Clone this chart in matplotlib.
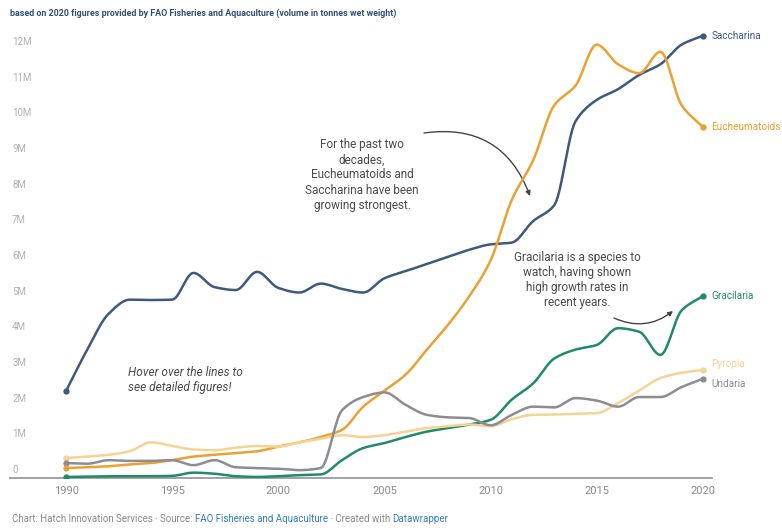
import numpy as np
import matplotlib
matplotlib.use('Agg')
import matplotlib.pyplot as plt
from matplotlib.transforms import blended_transform_factory

plt.rcParams['font.family'] = ['Roboto', 'DejaVu Sans']

years = list(range(1990, 2021))

# Production per species, million tonnes wet weight
saccharina = [2.44, 3.6, 4.6, 5.0, 4.99, 5.0, 5.75, 5.35, 5.27, 5.78, 5.33,
              5.2, 5.45, 5.3, 5.2, 5.6, 5.8, 6.0, 6.2, 6.4, 6.55,
              6.6, 7.2, 7.65, 10.0, 10.6, 10.9, 11.3, 11.6, 12.15, 12.4]
eucheumatoids = [0.28, 0.3, 0.33, 0.38, 0.42, 0.5, 0.6, 0.65, 0.7, 0.75, 0.88,
                 1.0, 1.15, 1.35, 2.0, 2.45, 2.9, 3.6, 4.3, 5.1, 6.1,
                 7.8, 8.9, 10.45, 11.0, 12.15, 11.6, 11.35, 11.95, 10.45, 9.84]
gracilaria = [0.03, 0.04, 0.05, 0.05, 0.05, 0.06, 0.15, 0.12, 0.05, 0.03, 0.05,
              0.08, 0.1, 0.5, 0.84, 0.98, 1.15, 1.3, 1.4, 1.5, 1.63,
              2.2, 2.65, 3.35, 3.6, 3.73, 4.2, 4.1, 3.45, 4.7, 5.1]
pyropia = [0.56, 0.6, 0.65, 0.75, 1.0, 0.9, 0.8, 0.78, 0.85, 0.9, 0.88,
           1.0, 1.1, 1.2, 1.15, 1.2, 1.3, 1.4, 1.45, 1.5, 1.45,
           1.65, 1.77, 1.78, 1.8, 1.82, 2.1, 2.45, 2.8, 2.95, 3.03]
undaria = [0.42, 0.4, 0.5, 0.48, 0.48, 0.5, 0.36, 0.5, 0.3, 0.28, 0.26,
           0.22, 0.28, 1.9, 2.27, 2.4, 2.05, 1.77, 1.7, 1.68, 1.48,
           1.77, 2.0, 1.98, 2.24, 2.17, 2.0, 2.27, 2.27, 2.55, 2.78]

names = ['Saccharina', 'Eucheumatoids', 'Gracilaria', 'Pyropia', 'Undaria']
colors = ['#3d5a7c', '#eba132', '#1f8a6c', '#f6d294', '#8f8b93']
series = [saccharina, eucheumatoids, gracilaria, pyropia, undaria]
label_offsets = [0, 0, 0, 1, -1]  # nudges the end labels apart (points * 4)


def smooth(x, y, n=12):
    # monotone cubic curve through the points, like the web chart draws
    x = np.asarray(x, float)
    y = np.asarray(y, float)
    h = np.diff(x)
    d = np.diff(y) / h
    m = np.zeros_like(y)
    m[0], m[-1] = d[0], d[-1]
    for i in range(1, len(y) - 1):
        if d[i - 1] * d[i] > 0:
            m[i] = 2 / (1 / d[i - 1] + 1 / d[i])
    xs, ys = [], []
    for i in range(len(x) - 1):
        t = np.linspace(0, 1, n, endpoint=False)
        h00 = 2 * t**3 - 3 * t**2 + 1
        h10 = t**3 - 2 * t**2 + t
        h01 = -2 * t**3 + 3 * t**2
        h11 = t**3 - t**2
        xs.append(x[i] + t * h[i])
        ys.append(h00 * y[i] + h10 * h[i] * m[i] + h01 * y[i + 1] + h11 * h[i] * m[i + 1])
    xs.append([x[-1]])
    ys.append([y[-1]])
    return np.concatenate(xs), np.concatenate(ys)


W, H = 782, 530
fig = plt.figure(figsize=(W / 100, H / 100), dpi=100)
fig.patch.set_facecolor('white')


def fx(px):
    return px / W


def fy(py):
    return 1 - py / H


ax = fig.add_axes([fx(10), fy(478), fx(712) - fx(10), fy(30) - fy(478)])
ax.set_xlim(1987.36, 2020.43)
ax.set_ylim(0, 12.56)

# draw order: light lines behind
for idx in [3, 4, 2, 0, 1]:
    vals = series[idx]
    sx, sy = smooth(years, vals)
    ax.plot(sx, sy, color=colors[idx], lw=1.8, solid_capstyle='round', zorder=3 + idx * 0.1)
    ax.plot([years[0], years[-1]], [vals[0], vals[-1]], 'o', color=colors[idx],
            ms=3.5, zorder=4)

for name, vals, c, off in zip(names, series, colors, label_offsets):
    ax.annotate(name, (years[-1], vals[-1]), xytext=(6, off * 4), textcoords='offset points',
                va='center', ha='left', fontsize=7.2, color=c, annotation_clip=False)

for s in ['top', 'right', 'left']:
    ax.spines[s].set_visible(False)
ax.spines['bottom'].set_color('#9a9a9a')
ax.spines['bottom'].set_linewidth(1.3)
ax.set_yticks([])
ax.set_xticks(range(1990, 2021, 5))
ax.tick_params(axis='x', length=0, pad=6, labelsize=8, labelcolor='#8a8a8a')

trans = blended_transform_factory(ax.transAxes, ax.transData)
for v in range(13):
    ax.text(0.003, v + 0.08, '0' if v == 0 else f'{v}M', transform=trans,
            fontsize=7, color='#b0b0b0', va='bottom', ha='left')

fig.text(fx(10), fy(13), 'based on 2020 figures provided by FAO Fisheries and Aquaculture '
         '(volume in tonnes wet weight)', fontsize=6.4, fontweight='bold',
         color='#2f5073', va='center', ha='left')

note_color = '#4a4a4a'
fig.text(fx(362), fy(175), 'For the past two\ndecades,\nEucheumatoids and\n'
         'Saccharina have been\ngrowing strongest.', fontsize=8.5, color=note_color,
         ha='center', va='center', linespacing=1.22)
fig.text(fx(577), fy(280), 'Gracilaria is a species to\nwatch, having shown\n'
         'high growth rates in\nrecent years.', fontsize=8.5, color=note_color,
         ha='center', va='center', linespacing=1.22)
fig.text(fx(128), fy(380), 'Hover over the lines to\nsee detailed figures!',
         fontsize=8.6, color=note_color, style='italic', ha='left', va='center',
         linespacing=1.25)

ax.annotate('', xy=(fx(530), fy(196)), xytext=(fx(424), fy(133)),
            xycoords='figure fraction', textcoords='figure fraction',
            arrowprops=dict(arrowstyle='-|>', color='#444444', lw=1.0,
                            connectionstyle='arc3,rad=-0.4', mutation_scale=7,
                            shrinkA=0, shrinkB=0))
ax.annotate('', xy=(fx(673), fy(311)), xytext=(fx(614), fy(318)),
            xycoords='figure fraction', textcoords='figure fraction',
            arrowprops=dict(arrowstyle='-|>', color='#444444', lw=1.0,
                            connectionstyle='arc3,rad=0.3', mutation_scale=7,
                            shrinkA=0, shrinkB=0))

# footer, pieces placed one after another
parts = [('Chart: Hatch Innovation Services · Source: ', '#8a8a8a'),
         ('FAO Fisheries and Aquaculture', '#2f7fb8'),
         (' · Created with ', '#8a8a8a'),
         ('Datawrapper', '#2f7fb8')]
fig.canvas.draw()
renderer = fig.canvas.get_renderer()
x = fx(12)
for txt, c in parts:
    t = fig.text(x, fy(519), txt, fontsize=7, color=c, va='center', ha='left')
    bb = t.get_window_extent(renderer)
    x += bb.width / W

fig.savefig('out.png', dpi=100, facecolor='white')
